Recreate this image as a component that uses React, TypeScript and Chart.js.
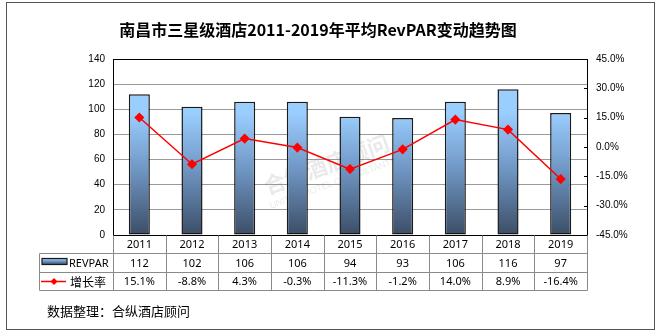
import React, { useEffect, useRef } from "react";
import { Chart, registerables } from "chart.js";

Chart.register(...registerables);

const TITLE = "南昌市三星级酒店2011-2019年平均RevPAR变动趋势图";
const SOURCE = "数据整理：合纵酒店顾问";
const YEARS = ["2011", "2012", "2013", "2014", "2015", "2016", "2017", "2018", "2019"];
const REVPAR = [112, 102, 106, 106, 94, 93, 106, 116, 97];
const GROWTH = [15.1, -8.8, 4.3, -0.3, -11.3, -1.2, 14.0, 8.9, -16.4];
const BAR_LABEL = "REVPAR";
const LINE_LABEL = "增长率";

const SANS = '"Liberation Sans", Arial, sans-serif';
const CJK = '"Noto Sans CJK SC", "Noto Sans", sans-serif';
const TABLE_FONT = '"Noto Sans", "Noto Sans CJK SC", sans-serif';

function barGradient(c: CanvasRenderingContext2D, top: number, bot: number) {
  const g = c.createLinearGradient(0, top, 0, bot);
  g.addColorStop(0, "#9ACEFF");
  g.addColorStop(0.45, "#7198C6");
  g.addColorStop(1, "#3C4E67");
  return g;
}

const decorPlugin = {
  id: "decor",
  beforeDatasetsDraw(chart: any) {
    const c = chart.ctx as CanvasRenderingContext2D;
    const a = chart.chartArea;
    // per-bar gradients
    chart.data.datasets.forEach((ds: any, di: number) => {
      if (ds.type !== "bar") return;
      const meta = chart.getDatasetMeta(di);
      meta.data.forEach((el: any) => {
        if (isFinite(el.y) && isFinite(el.base) && el.options) {
          el.options.backgroundColor = barGradient(c, el.y, el.base);
        }
      });
    });
    // faint watermark
    c.save();
    c.fillStyle = "rgba(140,140,140,0.18)";
    c.translate(a.left + (a.right - a.left) * 0.45, a.top + (a.bottom - a.top) * 0.6);
    c.rotate(-0.35);
    c.font = "bold 22px " + CJK;
    c.textAlign = "center";
    c.textBaseline = "middle";
    c.fillText("合纵酒店顾问", 0, 0);
    c.font = "9px " + SANS;
    c.fillText("UNITED HOTEL CONSULTANTS", 0, 20);
    c.restore();
  },
  afterDraw(chart: any) {
    const c = chart.ctx as CanvasRenderingContext2D;
    const a = chart.chartArea;
    const xs = chart.scales.x;
    const y1 = chart.scales.y1;

    c.save();
    // outer frame
    c.strokeStyle = "#555";
    c.lineWidth = 1;
    c.strokeRect(6.5, 2.5, 648, 327);

    // title
    c.fillStyle = "#000";
    c.font = "bold 16px " + CJK;
    c.textAlign = "center";
    c.textBaseline = "middle";
    c.fillText(TITLE, 318, 30);

    // plot border
    c.strokeStyle = "#000";
    c.lineWidth = 1;
    c.strokeRect(Math.round(a.left) + 0.5, Math.round(a.top) + 0.5, Math.round(a.right - a.left), Math.round(a.bottom - a.top));

    // right axis inward ticks
    c.beginPath();
    y1.ticks.forEach((t: any) => {
      const yy = Math.round(y1.getPixelForValue(t.value)) + 0.5;
      c.moveTo(a.right - 3, yy);
      c.lineTo(a.right, yy);
    });
    c.stroke();

    // data table
    const step = xs.getPixelForValue(1) - xs.getPixelForValue(0);
    const r0 = Math.round(a.bottom) + 0.5;
    const r1 = r0 + 18;
    const r2 = r1 + 19;
    const r3 = r2 + 18;
    const legL = 39.5;
    c.strokeStyle = "#8a8a8a";
    c.beginPath();
    [r1, r2, r3].forEach((yy) => {
      c.moveTo(legL, yy);
      c.lineTo(Math.round(a.right) + 0.5, yy);
    });
    c.moveTo(legL, r1);
    c.lineTo(legL, r3);
    for (let i = 0; i <= YEARS.length; i++) {
      const xx = Math.round(xs.getPixelForValue(0) - step / 2 + i * step) + 0.5;
      c.moveTo(xx, r0);
      c.lineTo(xx, r3);
    }
    c.stroke();

    c.fillStyle = "#000";
    c.font = "11px " + TABLE_FONT;
    c.textAlign = "center";
    c.textBaseline = "middle";
    YEARS.forEach((yr, i) => {
      const cx = xs.getPixelForValue(i);
      c.fillText(yr, cx, (r0 + r1) / 2 + 0.5);
      c.fillText(String(REVPAR[i]), cx, (r1 + r2) / 2 + 0.5);
      c.fillText(GROWTH[i].toFixed(1) + "%", cx, (r2 + r3) / 2 + 0.5);
    });

    // legend keys
    const m1 = (r1 + r2) / 2 - 1.5;
    c.fillStyle = barGradient(c, m1 - 3, m1 + 3);
    c.fillRect(42, m1 - 3, 25, 6);
    c.strokeStyle = "#1a1a1a";
    c.lineWidth = 1.2;
    c.strokeRect(42, m1 - 3, 25, 6);
    c.fillStyle = "#000";
    c.textAlign = "left";
    c.font = "11px " + TABLE_FONT;
    c.fillText(BAR_LABEL, 69, (r1 + r2) / 2 + 0.5);

    const m2 = (r2 + r3) / 2;
    c.strokeStyle = "#ff0000";
    c.lineWidth = 1.5;
    c.beginPath();
    c.moveTo(41, m2);
    c.lineTo(66, m2);
    c.stroke();
    c.fillStyle = "#ff0000";
    c.beginPath();
    c.moveTo(54, m2 - 3.5);
    c.lineTo(57.5, m2);
    c.lineTo(54, m2 + 3.5);
    c.lineTo(50.5, m2);
    c.closePath();
    c.fill();
    c.fillStyle = "#000";
    c.font = "12px " + CJK;
    c.fillText(LINE_LABEL, 70, m2 + 0.5);

    // source
    c.font = "13px " + CJK;
    c.fillText(SOURCE, 47, 311);
    c.restore();
  },
};

export default function App() {
  const ref = useRef<HTMLCanvasElement>(null);
  useEffect(() => {
    const chart = new Chart(ref.current as HTMLCanvasElement, {
      type: "bar",
      data: {
        labels: YEARS,
        datasets: [
          {
            type: "line",
            label: LINE_LABEL,
            data: GROWTH,
            yAxisID: "y1",
            borderColor: "#ff0000",
            backgroundColor: "#ff0000",
            borderWidth: 1.5,
            pointStyle: "rectRot",
            pointRadius: 4,
            pointBackgroundColor: "#ff0000",
            pointBorderColor: "#ff0000",
            tension: 0,
            order: 1,
          } as any,
          {
            type: "bar",
            label: BAR_LABEL,
            data: REVPAR,
            yAxisID: "y",
            backgroundColor: "#7198C6",
            borderColor: "#1a1a1a",
            borderWidth: 1.5,
            borderSkipped: false,
            barPercentage: 0.4,
            categoryPercentage: 1,
            order: 2,
          } as any,
        ],
      },
      options: {
        responsive: false,
        animation: false,
        layout: { padding: { top: 59, bottom: 99, left: 0, right: 0 } },
        plugins: { legend: { display: false }, tooltip: { enabled: false }, title: { display: false } },
        scales: {
          x: { display: false, offset: true, grid: { display: false } },
          y: {
            position: "left",
            min: 0,
            max: 140,
            ticks: { stepSize: 20, padding: 8, color: "#000", font: { size: 10, family: SANS } },
            grid: { color: "#9a9a9a", drawTicks: false, lineWidth: 1 },
            border: { display: false },
            afterFit: (s: any) => {
              s.width = 113;
            },
          },
          y1: {
            position: "right",
            min: -45,
            max: 45,
            ticks: {
              stepSize: 15,
              padding: 9,
              color: "#000",
              font: { size: 10, family: SANS },
              callback: (v: any) => Number(v).toFixed(1) + "%",
            },
            grid: { drawOnChartArea: false, drawTicks: false },
            border: { display: false },
            afterFit: (s: any) => {
              s.width = 75;
            },
          },
        },
      } as any,
      plugins: [decorPlugin],
    });
    return () => chart.destroy();
  }, []);
  return (
    <div style={{ position: "absolute", left: 0, top: 0, width: 662, height: 334, background: "#fff" }}>
      <canvas ref={ref} width={662} height={334} style={{ display: "block" }} />
    </div>
  );
}
